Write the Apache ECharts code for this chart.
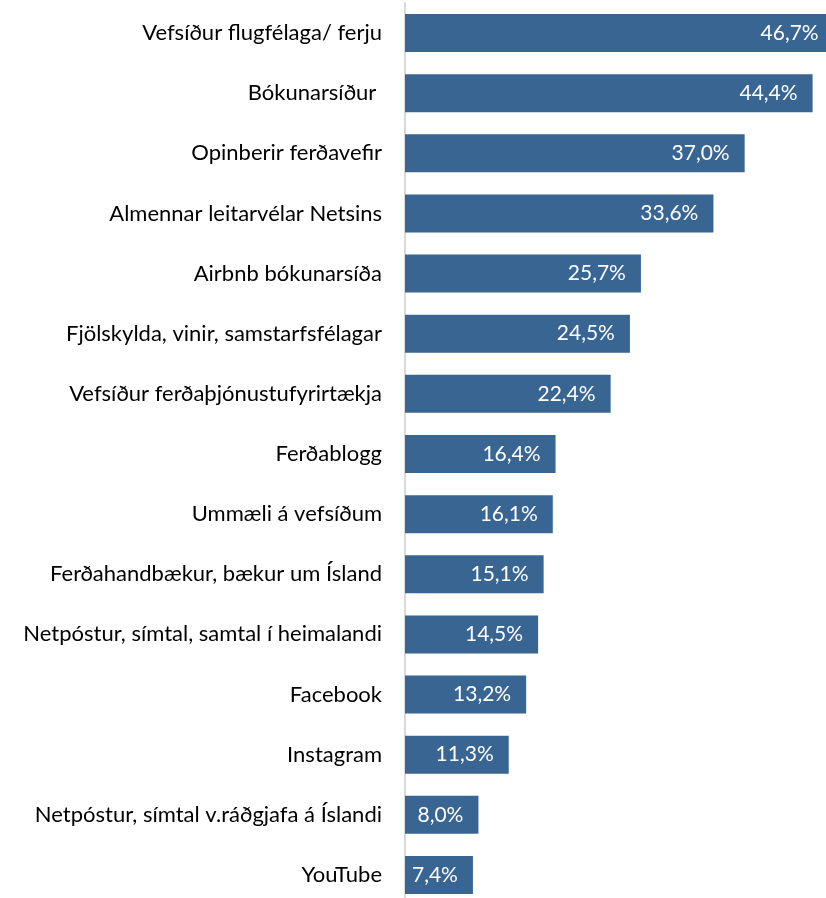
<!DOCTYPE html>
<html>
<head>
<meta charset="utf-8">
<script src="https://cdn.jsdelivr.net/npm/echarts@6/dist/echarts.min.js"></script>
<style>
  html, body { margin: 0; padding: 0; background: #ffffff; }
  #chart { width: 826px; height: 898px; }
</style>
</head>
<body>
<div id="chart"></div>
<script>
// categories, top to bottom
const categories = [
  "Vefsíður flugfélaga/ ferju",
  "Bókunarsíður ",
  "Opinberir ferðavefir",
  "Almennar leitarvélar Netsins",
  "Airbnb bókunarsíða",
  "Fjölskylda, vinir, samstarfsfélagar",
  "Vefsíður ferðaþjónustufyrirtækja",
  "Ferðablogg",
  "Ummæli á vefsíðum",
  "Ferðahandbækur, bækur um Ísland",
  "Netpóstur, símtal, samtal í heimalandi",
  "Facebook",
  "Instagram",
  "Netpóstur, símtal v.ráðgjafa á Íslandi",
  "YouTube"
];
const values = [46.7, 44.4, 37.0, 33.6, 25.7, 24.5, 22.4, 16.4, 16.1, 15.1, 14.5, 13.2, 11.3, 8.0, 7.4];

const chart = echarts.init(document.getElementById("chart"));

const option = {
  animation: false,
  grid: {
    left: 405,
    top: 3,
    width: 459,
    height: 902,
    outerBoundsMode: "none"
  },
  xAxis: {
    type: "value",
    min: 0,
    max: 50,
    show: false
  },
  yAxis: {
    type: "category",
    inverse: true,
    data: categories,
    axisTick: { show: false },
    axisLine: { show: true, lineStyle: { color: "#d9d9d9", width: 2 } },
    axisLabel: {
      margin: 23,
      color: "#000000",
      fontFamily: "Lato",
      fontSize: 22
    }
  },
  series: [
    {
      type: "bar",
      data: values,
      barWidth: 38,
      itemStyle: { color: "#396593" },
      label: {
        show: true,
        position: "insideRight",
        distance: 15,
        color: "#ffffff",
        fontFamily: "Lato",
        fontSize: 21,
        formatter: (p) => p.value.toFixed(1).replace(".", ",") + "%"
      }
    }
  ]
};

chart.setOption(option);
</script>
</body>
</html>
